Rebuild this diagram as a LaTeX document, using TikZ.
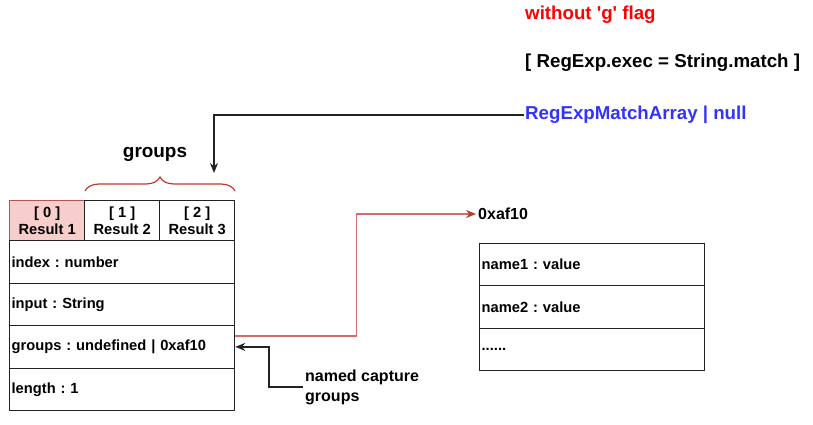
\documentclass[tikz,border=0pt]{standalone}
\usepackage{fontspec}
\setmainfont{Liberation Sans}[Ligatures=TeXOff]
\usetikzlibrary{arrows.meta,decorations.pathreplacing}
\definecolor{hdrfill}{HTML}{F8CECC}
\definecolor{hdrline}{HTML}{B85450}
\definecolor{bracered}{HTML}{C0392B}
\definecolor{arrred}{HTML}{D46A6A}
\definecolor{bluetxt}{HTML}{3333FF}
\definecolor{linegray}{HTML}{222222}
\frenchspacing
\begin{document}
\frenchspacing
\begin{tikzpicture}[x=1pt,y=-1pt,
  font=\bfseries\fontsize{14.7}{17}\selectfont,
  cell/.style={draw=linegray, line width=1.3pt, minimum width=75pt, minimum height=40pt, inner sep=0pt, anchor=north west, align=center},
  rowbox/.style={draw=linegray, line width=1.3pt, minimum height=42.5pt, inner sep=2pt, text width=221pt, align=left, anchor=north west},
  bigtxt/.style={font=\bfseries\fontsize{18.7}{22}\selectfont, anchor=west, inner sep=1pt},
  blackarrow/.style={draw=linegray, line width=1.3pt, -{Stealth[length=10pt,width=8pt]}},
  redarrow/.style={draw=arrred, line width=1.5pt, -{Stealth[length=10pt,width=8pt,color=bracered]}}
]
\useasboundingbox (0,0) rectangle (813,425);

% header cells
\node[cell, fill=hdrfill, draw=hdrline] (h0) at (9,200) {[ 0 ]\\Result 1};
\node[cell] (h1) at (84,200) {[ 1 ]\\Result 2};
\node[cell] (h2) at (159,200) {[ 2 ]\\Result 3};

% rows
\node[rowbox] (idx) at (9,240) {index : number};
\node[rowbox] (inp) at (9,282.5) {input : String};
\node[rowbox] (grp) at (9,325) {groups : undefined | 0xaf10};
\node[rowbox] (len) at (9,367.5) {length : 1};

% right table
\node[rowbox] (n1) at (479,242.5) {name1 : value};
\node[rowbox] (n2) at (479,285) {name2 : value};
\node[rowbox] (n3) at (479,327.5) {......};

% labels
\node[font=\bfseries\fontsize{18.9}{22}\selectfont] (glab) at (155,154) {groups};
\node[bigtxt, text=red] (flag) at (524,15) {without 'g' flag};
\node[bigtxt] (eq) at (524,63) {[ RegExp.exec = String.match ]};
\node[bigtxt, text=bluetxt] (rm) at (524,115) {RegExpMatchArray | null};
\node[anchor=west, inner sep=2pt, font=\bfseries\fontsize{16}{20}\selectfont] (addr) at (476,214) {0xaf10};
\node[anchor=west, align=left, inner sep=2pt, font=\bfseries\fontsize{16}{20}\selectfont] (named) at (303,387) {named capture\\groups};

% brace
\draw[bracered, line width=1.2pt, decorate, decoration={brace, amplitude=14pt}] (85,191) -- (235,191);

% connectors
\coordinate (tip) at (214,173);
\draw[blackarrow] (rm.west) -| (tip);
\draw[redarrow] ([yshift=11pt]grp.east) -- ++(121,0) |- (addr.west);
\draw[blackarrow] (named.west) -- ++(-34,0) |- (grp.east);
\end{tikzpicture}
\end{document}
